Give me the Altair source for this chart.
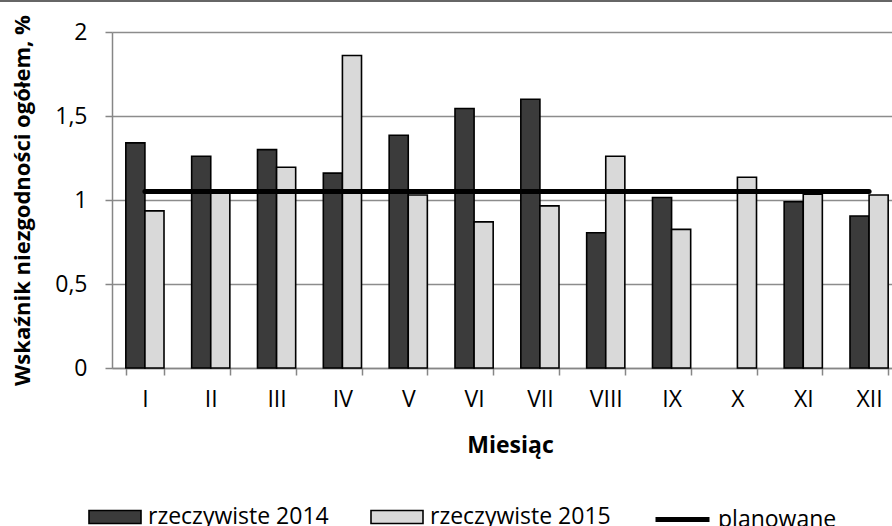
import altair as alt
import pandas as pd

# Months (Roman numerals) and non-conformity index values, %
months = ["I", "II", "III", "IV", "V", "VI", "VII", "VIII", "IX", "X", "XI", "XII"]
actual_2014 = [1.34, 1.26, 1.30, 1.16, 1.385, 1.545, 1.60, 0.805, 1.015, None, 0.99, 0.905]
actual_2015 = [0.935, 1.04, 1.195, 1.86, 1.03, 0.87, 0.965, 1.26, 0.825, 1.135, 1.035, 1.03]
planned = [1.05] * 12

series_names = ["rzeczywiste 2014", "rzeczywiste 2015"]
plan_name = "planowane"

rows = []
for m, a, b in zip(months, actual_2014, actual_2015):
    if a is not None:
        rows.append({"miesiac": m, "seria": series_names[0], "wartosc": a})
    if b is not None:
        rows.append({"miesiac": m, "seria": series_names[1], "wartosc": b})
bars_df = pd.DataFrame(rows)
plan_df = pd.DataFrame({"miesiac": months, "wartosc": planned, "seria": plan_name})

FONT = "Open Sans"

x_scale = alt.Scale(domain=months, rangeMax=790, paddingInner=0.42, paddingOuter=0.21)
y_scale = alt.Scale(domain=[0, 2], nice=False)

x_axis = alt.Axis(
    title="Miesiąc",
    labelAngle=0,
    tickBand="extent",
    tickSize=7,
    labelPadding=13,
    titlePadding=23,
    titleX=398,
    titleFontSize=23,
)
y_axis = alt.Axis(
    title="Wskaźnik niezgodności ogółem, %",
    values=[0, 0.5, 1, 1.5, 2],
    labelExpr="replace(format(datum.value, ''), '.', ',')",
    tickSize=7,
    labelPadding=18,
    titlePadding=20,
    grid=True,
)

bars = alt.Chart(bars_df).mark_bar(stroke="black", strokeWidth=1.6).encode(
    x=alt.X("miesiac:N", scale=x_scale, axis=x_axis, sort=months),
    xOffset=alt.XOffset("seria:N", sort=series_names),
    y=alt.Y("wartosc:Q", scale=y_scale, axis=y_axis),
    color=alt.Color(
        "seria:N",
        scale=alt.Scale(domain=series_names, range=["#3b3b3b", "#d9d9d9"]),
        legend=alt.Legend(
            title=None,
            orient="none",
            direction="horizontal",
            legendX=-24,
            legendY=458,
            symbolType="M-1,-0.25H1V0.25H-1Z",
            symbolSize=2704,
            symbolStrokeColor="black",
            symbolStrokeWidth=1.6,
            symbolOpacity=1,
            labelOffset=6,
            labelLimit=0,
            columnPadding=38,
        ),
    ),
)

line = alt.Chart(plan_df).mark_line(strokeWidth=5, strokeCap="round").encode(
    x=alt.X("miesiac:N", scale=x_scale, sort=months),
    y=alt.Y("wartosc:Q", scale=y_scale),
    stroke=alt.Stroke(
        "seria:N",
        scale=alt.Scale(domain=[plan_name], range=["black"]),
        legend=alt.Legend(
            title=None,
            orient="none",
            direction="horizontal",
            legendX=541,
            legendY=458,
            symbolType="stroke",
            symbolSize=2916,
            symbolStrokeColor="black",
            symbolStrokeWidth=5,
            symbolOpacity=1,
            labelOffset=6,
            labelLimit=0,
        ),
    ),
)

# thin frame line along the top edge
top_border = alt.Chart(pd.DataFrame({"k": [0]})).mark_rule(color="#333333", strokeWidth=1.5).encode(
    x=alt.value(-112), x2=alt.value(790), y=alt.value(-31)
)

chart = (
    alt.layer(bars, line, top_border)
    .properties(
        width=780,
        height=336,
        autosize=alt.AutoSizeParams(type="none"),
        padding={"left": 112, "top": 32, "right": 0, "bottom": 158},
        background="white",
    )
    .configure_view(stroke=None)
    .configure_axis(
        domainColor="#868686",
        domainWidth=1.5,
        tickColor="#868686",
        tickWidth=1.5,
        gridColor="#8c8c8c",
        gridWidth=1.5,
        labelFont=FONT,
        labelFontSize=23,
        labelColor="black",
        titleFont=FONT,
        titleFontSize=22,
        titleFontWeight="bold",
        titleColor="black",
    )
    .configure_legend(
        labelFont=FONT,
        labelFontSize=23,
        labelColor="black",
        padding=0,
    )
)

chart.save("out.html", embed_options={"renderer": "svg", "actions": False})
